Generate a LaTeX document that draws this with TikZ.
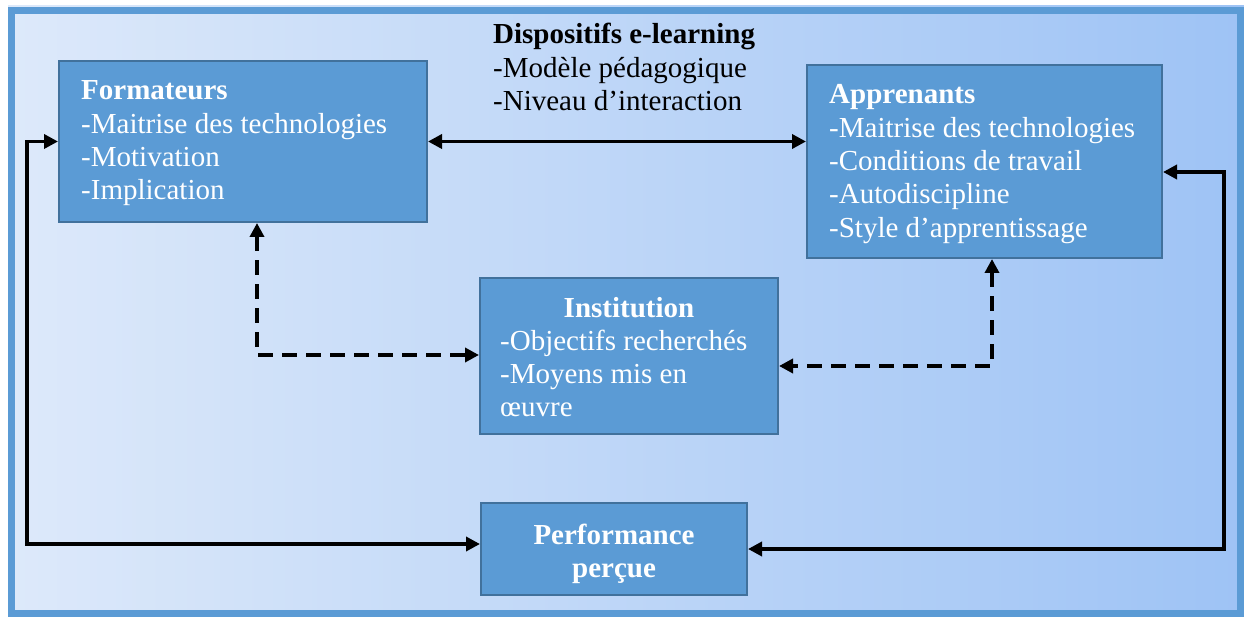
\documentclass[tikz,border=0pt]{standalone}
\usepackage{fontspec}
\setmainfont{Liberation Serif}
\usetikzlibrary{arrows.meta}
\definecolor{boxfill}{RGB}{91,155,213}
\definecolor{boxline}{RGB}{65,113,156}
\definecolor{framecol}{RGB}{91,155,213}
\definecolor{bgl}{RGB}{221,233,250}
\definecolor{bgr}{RGB}{158,195,245}
\tikzset{
  box/.style={draw=boxline, line width=2pt, fill=boxfill, rectangle, inner sep=0pt},
  txt/.style={font=\fontsize{29pt}{33.3pt}\selectfont, inner sep=0pt},
  wtxt/.style={txt, text=white},
  conn/.style={line width=3.5pt, {Triangle[length=14pt,width=14pt]}-{Triangle[length=14pt,width=14pt]}},
  dconn/.style={conn, dash pattern=on 15pt off 9pt}
}
\begin{document}
\begin{tikzpicture}[x=1pt,y=-1pt]
\useasboundingbox (0,0) rectangle (1244,617);
\shade[left color=bgl, right color=bgr] (8,6) rectangle (1244,617);
\draw[framecol, line width=7pt] (11.5,10.5) rectangle (1240.5,613.5);
% boxes
\node[box, minimum width=368pt, minimum height=161pt] (form) at (243,141.5) {};
\node[box, minimum width=355pt, minimum height=193pt] (appr) at (984.5,161.5) {};
\node[box, minimum width=298pt, minimum height=156pt] (inst) at (629,356) {};
\node[box, minimum width=266pt, minimum height=92pt] (perf) at (614,549) {};
% texts
\node[txt, anchor=base west] (disp) at (493,44) {\begin{tabular}[t]{@{}l@{}}\textbf{Dispositifs e-learning}\\-Modèle pédagogique\\-Niveau d’interaction\end{tabular}};
\node[wtxt, anchor=base west] (formt) at (81,100) {\begin{tabular}[t]{@{}l@{}}\textbf{Formateurs}\\-Maitrise des technologies\\-Motivation\\-Implication\end{tabular}};
\node[wtxt, anchor=base west] (apprt) at (829,104) {\begin{tabular}[t]{@{}l@{}}\textbf{Apprenants}\\-Maitrise des technologies\\-Conditions de travail\\-Autodiscipline\\-Style d’apprentissage\end{tabular}};
\node[wtxt, anchor=base] (instt) at (629,318) {\textbf{Institution}};
\node[wtxt, anchor=base west] (instl) at (500,350) {\begin{tabular}[t]{@{}l@{}}-Objectifs recherchés\\-Moyens mis en\\œuvre\end{tabular}};
\node[wtxt, anchor=base] (perft) at (614,544) {\begin{tabular}[t]{@{}c@{}}\textbf{Performance}\\\textbf{perçue}\end{tabular}};
% connectors
\draw[conn] (form.east) -- (form.east -| appr.west);
\draw[conn] (form.west) -- ++(-31,0) |- ([yshift=5pt]perf.west);
\draw[conn] ([yshift=-10.5pt]appr.east) -- ++(61,0) |- (perf.east);
\draw[dconn] ([xshift=14pt]form.south) |- ([yshift=1pt]inst.west);
\draw[dconn] ([xshift=7.5pt]appr.south) |- ([yshift=-10pt]inst.east);
\end{tikzpicture}
\end{document}
